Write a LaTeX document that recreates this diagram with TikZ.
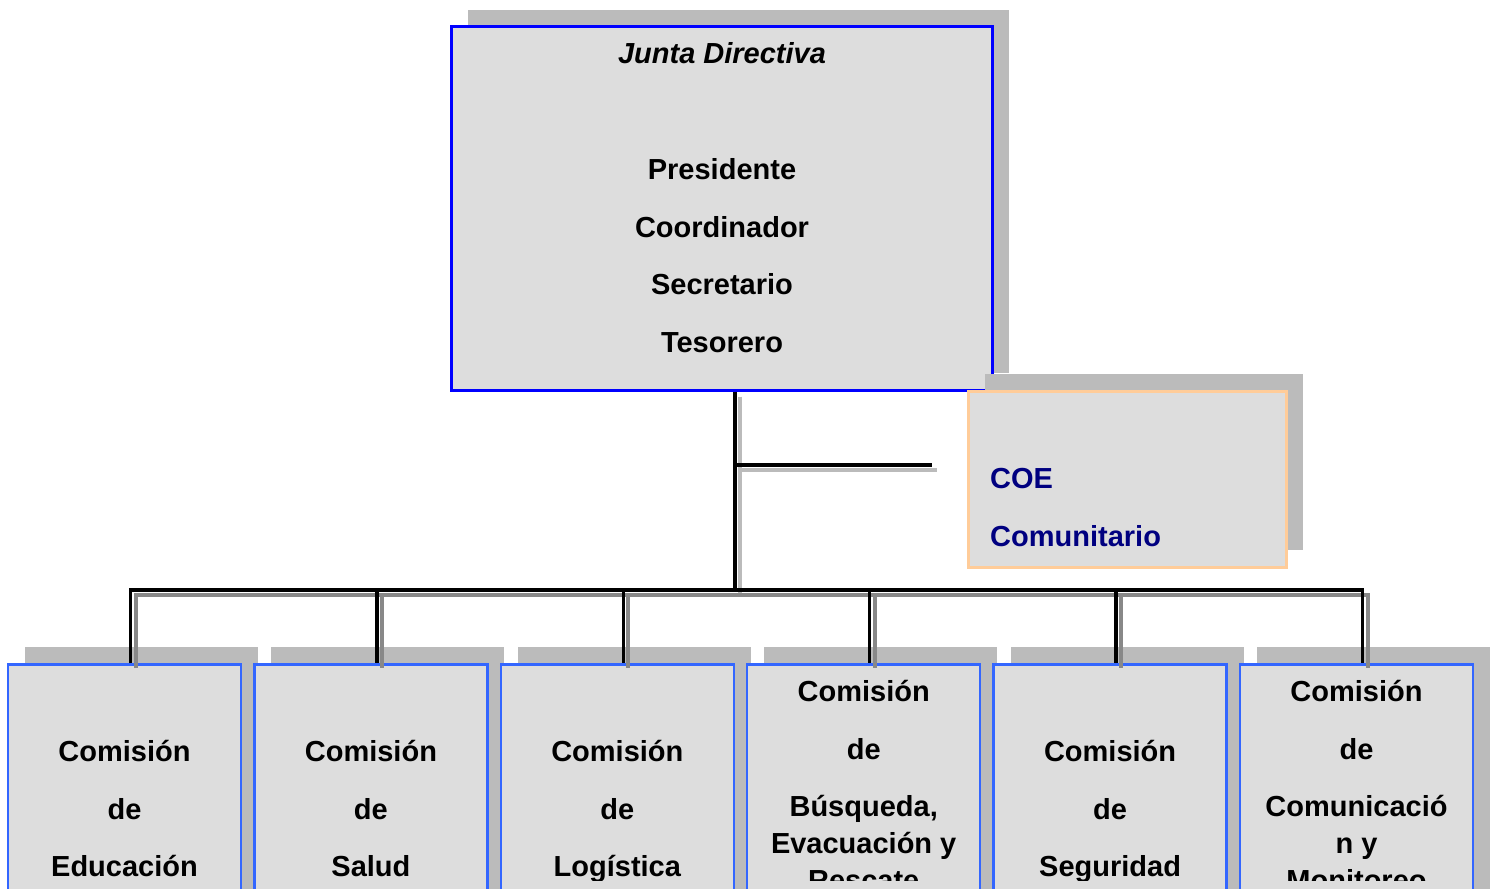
\documentclass[tikz,border=0pt]{standalone}
\usepackage{fontspec}
\setmainfont{Liberation Sans}
\usetikzlibrary{shadows}

\definecolor{boxfill}{HTML}{DDDDDD}
\definecolor{shadegray}{HTML}{BBBBBB}
\definecolor{boardblue}{HTML}{0000FF}
\definecolor{comblue}{HTML}{3366FF}
\definecolor{coeedge}{HTML}{FFCC99}
\definecolor{coenavy}{HTML}{000080}
\definecolor{linkgray}{HTML}{888888}

\tikzset{
  boxshade/.style={drop shadow={shadow xshift=17pt, shadow yshift=17pt, opacity=1, fill=shadegray}},
  boardbox/.style={rectangle, draw=boardblue, line width=3pt, fill=boxfill, boxshade,
    minimum width=541pt, minimum height=363pt, inner sep=0pt},
  coebox/.style={rectangle, draw=coeedge, line width=3pt, fill=boxfill, boxshade,
    minimum width=318pt, minimum height=176pt, inner sep=0pt},
  combox/.style={rectangle, draw=comblue, line width=2.5pt, fill=boxfill, boxshade,
    minimum width=233pt, minimum height=260pt, inner sep=0pt, anchor=north},
  % base anchor sits on the last line
  boldtext/.style={font=\fontsize{29}{37}\selectfont\bfseries, align=center, anchor=base, inner sep=0pt},
  coetext/.style={boldtext, align=left, anchor=base west, text=coenavy},
  link/.style={draw=black, line width=3.5pt},
  linkshade/.style={draw=linkgray, line width=4pt, transform canvas={xshift=5pt, yshift=-5pt}},
  armshade/.style={linkshade, draw=shadegray},
}

\begin{document}
\begin{tikzpicture}[x=1pt, y=-1pt]
    \useasboundingbox (0,0) rectangle (1495,888);
    \clip (0,0) rectangle (1495,888);

    % Boxes
    \node[boardbox] (junta) at (721.5,208.5) {};
    \node[coebox] (coe) at (1127,479) {};
    \node[combox] (edu) at (124.5,663) {};
    \node[combox] (salud) at (370.9,663) {};
    \node[combox] (logis) at (617.3,663) {};
    \node[combox] (busq) at (863.7,663) {};
    \node[combox] (segur) at (1110.1,663) {};
    \node[combox] (comun) at (1356.5,663) {};

    % Texts
    \node[boldtext] (juntatxt) at (722,352) {\textit{Junta Directiva}\\[79pt]
      Presidente\\[20.5pt] Coordinador\\[20.5pt] Secretario\\[20.5pt] Tesorero};
    \node[coetext] (coetxt) at (990,546) {COE\\[21pt] Comunitario};
    \begin{scope}
        \clip (0,0) rectangle (1495,880);
        \node[boldtext] (edutxt) at (124.5,876.7) {Comisión\\[20.5pt] de\\[20.5pt] Educación};
        \node[boldtext] (saludtxt) at (370.9,876.7) {Comisión\\[20.5pt] de\\[20.5pt] Salud};
        \node[boldtext] (logistxt) at (617.3,876.7) {Comisión\\[20.5pt] de\\[20.5pt] Logística};
        \node[boldtext] (busqtxt) at (863.7,890.7) {Comisión\\[20.5pt] de\\[20.5pt] Búsqueda,\\ Evacuación y\\ Rescate};
        \node[boldtext] (segurtxt) at (1110.1,876.7) {Comisión\\[20.5pt] de\\[20.5pt] Seguridad};
        \node[boldtext] (comuntxt) at (1356.5,890.7) {Comisión\\[20.5pt] de\\[20.5pt] Comunicació\\ n y\\ Monitoreo};
    \end{scope}

    % Connectors
    \coordinate (hub) at (735,590);
    \coordinate (tee) at (735,465);
    \coordinate (arm) at (932,465);

    \draw[armshade] (junta.south -| hub) -- (hub);
    \draw[armshade] (tee) -- (arm);
    \draw[linkshade] ([xshift=6pt]edu.north) |- ([xshift=6pt]comun.north |- hub) -- ([xshift=6pt]comun.north);
    \foreach \c in {salud,logis,busq,segur}
        \draw[linkshade] ([xshift=6pt]\c.north |- hub) -- ([xshift=6pt]\c.north);

    \draw[link] (junta.south -| hub) -- (hub);
    \draw[link] (tee) -- (arm);
    \draw[link] ([xshift=6pt]edu.north) |- ([xshift=6pt]comun.north |- hub) -- ([xshift=6pt]comun.north);
    \foreach \c in {salud,logis,busq,segur}
        \draw[link] ([xshift=6pt]\c.north |- hub) -- ([xshift=6pt]\c.north);
\end{tikzpicture}
\end{document}
